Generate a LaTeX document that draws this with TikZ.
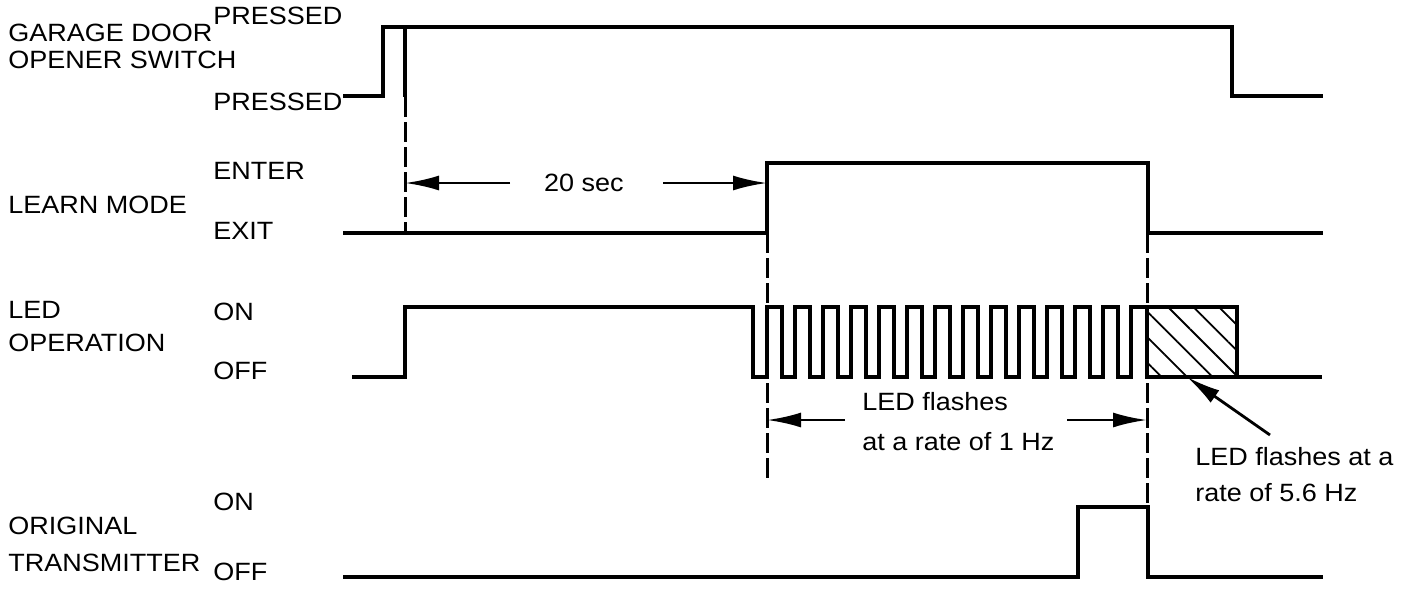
\documentclass[tikz,border=0pt]{standalone}
\usepackage{fontspec}
\setmainfont{Liberation Sans}[FakeStretch=1.08]
\usepackage{tikz}
\usetikzlibrary{arrows.meta,patterns.meta}

\tikzset{
  sig/.style={line width=1.7pt},
  guide/.style={line width=1.5pt,dash pattern=on 10pt off 2.5pt},
  dim/.style={line width=1.4pt,-{Latex[length=17pt,width=7.5pt]}},
  lbl/.style={anchor=west,inner sep=0pt},
}

\begin{document}
\begin{tikzpicture}[x=0.5pt,y=-0.5pt,font=\fontsize{12.5}{20}\selectfont]
\useasboundingbox (0,0) rectangle (1408,590);
% row labels
\node[lbl] (gdoor) at (8,33) {GARAGE DOOR};
\node[lbl] (gswitch) at (8,60) {OPENER SWITCH};
\node[lbl] (ghi) at (213,16) {PRESSED};
\node[lbl] (glo) at (213,102) {PRESSED};
\node[lbl] (learn) at (8,205) {LEARN MODE};
\node[lbl] (enter) at (213,171) {ENTER};
\node[lbl] (exit) at (213,231) {EXIT};
\node[lbl] (led) at (8,310) {LED};
\node[lbl] (ledop) at (8,343) {OPERATION};
\node[lbl] (ledon) at (213,312) {ON};
\node[lbl] (ledoff) at (213,371) {OFF};
\node[lbl] (orig) at (8,526) {ORIGINAL};
\node[lbl] (trans) at (8,563) {TRANSMITTER};
\node[lbl] (txon) at (213,502) {ON};
\node[lbl] (txoff) at (213,572) {OFF};
% waveforms
\draw[sig] (343,96) -- (383,96) -- (383,27) -- (1232,27) -- (1232,96) -- (1323,96);
\draw[sig] (343,233) -- (767,233) -- (767,163) -- (1148,163) -- (1148,233) -- (1323,233);
\draw[sig] (352,377) -- (405,377) -- (405,307) -- (753,307) -- (753,377) -- (767,377)
  \foreach \k in {1,...,13} { -- ++(0,-70) -- ++(15,0) -- ++(0,70) -- ++(13,0) }
  -- ++(0,-70) -- (1147,307);
\draw[sig,pattern={Lines[angle=-45,distance=9pt,line width=0.9pt]}] (1147,307) rectangle (1237,377);
\draw[sig] (1237,377) -- (1322,377);
\draw[sig] (343,577) -- (1078,577) -- (1078,507) -- (1148,507) -- (1148,577) -- (1323,577);
% time marks
\coordinate (m1top) at (405,27);
\coordinate (m1mid) at (405,97);
\coordinate (m1bot) at (405,233);
\coordinate (m2top) at (767,233);
\coordinate (m2bot) at (767,478);
\coordinate (m3top) at (1147,233);
\coordinate (m3bot) at (1147,506);
\draw[sig] (m1top) -- (m1mid);
\draw[guide] (m1mid) -- (m1bot);
\draw[guide] (m2top) -- (m2bot);
\draw[guide] (m3top) -- (m3bot);
% intervals
\node (sec) at (584,183) {20 sec};
\coordinate (sec-l) at (510,183);
\coordinate (sec-r) at (663,183);
\draw[dim] (sec-l) -- (m1top |- sec-l);
\draw[dim] (sec-r) -- (m2top |- sec-r);
\node[lbl,align=left] (slow) at (862,422) {LED flashes\\at a rate of 1 Hz};
\coordinate (slow-l) at (845,420);
\coordinate (slow-r) at (1067,420);
\draw[dim] (slow-l) -- (m2top |- slow-l);
\draw[dim] (slow-r) -- (m3top |- slow-r);
\node[lbl,align=left,font=\fontsize{12.5}{18}\selectfont] (fast) at (1195,475) {LED flashes at a\\rate of 5.6 Hz};
\coordinate (fast-tail) at (1270,435);
\coordinate (fast-tip) at (1187,377);
\draw[dim] (fast-tail) -- (fast-tip);
\end{tikzpicture}
\end{document}
